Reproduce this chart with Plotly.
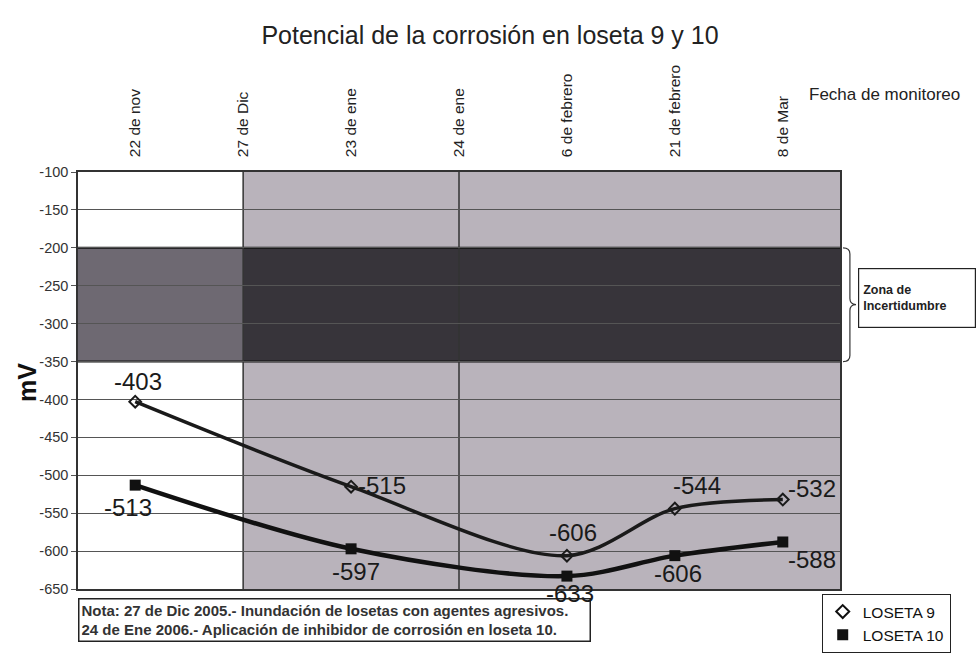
import plotly.graph_objects as go

# Monitoring dates (top category axis)
fechas = ["22 de nov", "27 de Dic", "23 de ene", "24 de ene",
          "6 de febrero", "21 de febrero", "8 de Mar"]

# Corrosion potential readings (mV); None = no reading that day
loseta9 = [-403, None, -515, None, -606, -544, -532]
loseta10 = [-513, None, -597, None, -633, -606, -588]

y_ticks = [-100, -150, -200, -250, -300, -350, -400, -450, -500, -550, -600, -650]

# Uncertainty zone limits (mV)
zona_sup, zona_inf = -200, -350

FONT = "Liberation Sans, Arial, sans-serif"
x_idx = list(range(len(fechas)))
x_lo, x_hi = -0.53, len(fechas) - 0.47


def pts(vals):
    xs = [i for i, v in zip(x_idx, vals) if v is not None]
    ys = [v for v in vals if v is not None]
    return xs, ys


fig = go.Figure()

x9, y9 = pts(loseta9)
x10, y10 = pts(loseta10)

fig.add_trace(go.Scatter(
    x=x9, y=y9, mode="lines+markers", showlegend=False,
    line=dict(color="#1a1a1a", width=3.5, shape="spline", smoothing=0.9),
    marker=dict(symbol="diamond-open", size=9, color="#1a1a1a", line=dict(width=2)),
))
fig.add_trace(go.Scatter(
    x=x10, y=y10, mode="lines+markers", showlegend=False,
    line=dict(color="#111111", width=4.5, shape="spline", smoothing=0.9),
    marker=dict(symbol="square", size=11, color="#111111"),
))

# legend entries (marker only)
fig.add_trace(go.Scatter(x=[None], y=[None], mode="markers", name="LOSETA 9",
                         marker=dict(symbol="diamond-open", size=10, color="#111", line=dict(width=2))))
fig.add_trace(go.Scatter(x=[None], y=[None], mode="markers", name="LOSETA 10",
                         marker=dict(symbol="square", size=11, color="#111")))

shapes = [
    # shaded period after flooding
    dict(type="rect", xref="x", yref="y", x0=1, x1=x_hi, y0=-650, y1=-100,
         fillcolor="#b9b3bb", line=dict(width=0), layer="below"),
    # uncertainty zone
    dict(type="rect", xref="x", yref="y", x0=x_lo - 0.02, x1=1, y0=zona_inf, y1=zona_sup,
         fillcolor="#6e6972", line=dict(width=0), layer="below"),
    dict(type="rect", xref="x", yref="y", x0=1, x1=x_hi, y0=zona_inf, y1=zona_sup,
         fillcolor="#37343a", line=dict(width=0), layer="below"),
    dict(type="line", xref="x", yref="y", x0=x_lo - 0.02, x1=x_hi, y0=zona_sup, y1=zona_sup,
         line=dict(color="#111", width=2), layer="below"),
    dict(type="line", xref="x", yref="y", x0=x_lo - 0.02, x1=x_hi, y0=zona_inf, y1=zona_inf,
         line=dict(color="#111", width=2), layer="below"),
    # event markers: flooding and inhibitor application
    dict(type="line", xref="x", yref="y", x0=1, x1=1, y0=-650, y1=-100,
         line=dict(color="#333", width=1.5), layer="below"),
    dict(type="line", xref="x", yref="y", x0=3, x1=3, y0=-650, y1=-100,
         line=dict(color="#333", width=1.5), layer="below"),
]

# curly brace next to the uncertainty zone
bx0, bx1, bx2 = 1.004, 1.013, 1.021
ym = (zona_sup + zona_inf) / 2
d = 8
brace = (f"M {bx0},{zona_sup} Q {bx1},{zona_sup} {bx1},{zona_sup - d} "
         f"L {bx1},{ym + d} Q {bx1},{ym} {bx2},{ym} Q {bx1},{ym} {bx1},{ym - d} "
         f"L {bx1},{zona_inf + d} Q {bx1},{zona_inf} {bx0},{zona_inf}")
shapes.append(dict(type="path", xref="paper", yref="y", path=brace,
                   line=dict(color="#333", width=1.2)))

annotations = [
    dict(text="<b>Nota: 27 de Dic 2005.- Inundación de losetas con agentes agresivos.<br>"
              "24 de Ene 2006.- Aplicación de inhibidor de corrosión en loseta 10.</b>",
         xref="paper", yref="paper", x=0.0, y=-0.022, xanchor="left", yanchor="top",
         showarrow=False, align="left", bordercolor="#222", borderwidth=1.5, borderpad=2,
         width=506, bgcolor="white", font=dict(family=FONT, size=15, color="#333")),
    dict(text="<b>mV</b>", xref="paper", yref="y", x=-0.067, y=-377, textangle=-90,
         xanchor="center", yanchor="middle",
         showarrow=False, font=dict(family=FONT, size=25, color="#111")),
    dict(text="Fecha de monitoreo", xref="paper", yref="paper", x=1.0, y=1.185,
         xanchor="left", yanchor="middle", showarrow=False, xshift=-33,
         font=dict(family=FONT, size=17, color="#222")),
    dict(text="<b>Zona de<br>Incertidumbre</b>", xref="paper", yref="paper", x=1.024, y=0.698,
         xanchor="left", yanchor="middle", showarrow=False, align="left",
         width=108, height=50, bordercolor="#222", borderwidth=1.2, borderpad=4,
         bgcolor="white", font=dict(family=FONT, size=12.5, color="#222")),
]

# data labels: (x, value, xshift, yshift, xanchor)
lab9 = [(0, -403, 3, 20, "center"), (2, -515, 5, 1, "left"), (4, -606, 6, 23, "center"),
        (5, -544, 22, 23, "center"), (6, -532, 3, 11, "left")]
lab10 = [(0, -513, -7, -22, "center"), (2, -597, 5, -23, "center"), (4, -633, 3, -17, "center"),
         (5, -606, 3, -18, "center"), (6, -588, 29, -18, "center")]
for xi, v, xs, ys, xa in lab9 + lab10:
    annotations.append(dict(x=xi, y=v, xref="x", yref="y", text=str(v), showarrow=False,
                            xshift=xs, yshift=ys, xanchor=xa,
                            font=dict(family=FONT, size=24, color="#1a1a1a")))

fig.update_layout(
    width=980, height=656,
    margin=dict(l=78, r=140, t=172, b=67, autoexpand=False),
    paper_bgcolor="white", plot_bgcolor="white",
    title=dict(text="Potencial de la corrosión en loseta 9 y 10", x=0.5, xanchor="center",
               y=0.947, yanchor="middle", font=dict(family=FONT, size=25, color="#222")),
    xaxis=dict(side="top", range=[x_lo, x_hi], tickvals=x_idx, ticktext=fechas,
               tickangle=-90, tickfont=dict(family=FONT, size=15.5, color="#222"),
               showgrid=False, zeroline=False, showline=True, linecolor="#333",
               linewidth=1.5, mirror=True, ticks="", ticklabelstandoff=10),
    yaxis=dict(range=[-650, -100], tickvals=y_ticks, ticktext=[str(t) for t in y_ticks],
               tickfont=dict(family=FONT, size=14.5, color="#333"),
               showgrid=True, gridcolor="#555", gridwidth=1, zeroline=False,
               showline=True, linecolor="#333", linewidth=1.5, mirror=True,
               ticks="outside", ticklen=5, tickcolor="#555"),
    legend=dict(x=0.976, y=-0.012, xanchor="left", yanchor="top",
                bordercolor="#222", borderwidth=1, bgcolor="white",
                font=dict(family=FONT, size=15.5, color="#111"),
                itemwidth=30, tracegroupgap=0),
    shapes=shapes,
    annotations=annotations,
)

fig.write_html("out.html")
